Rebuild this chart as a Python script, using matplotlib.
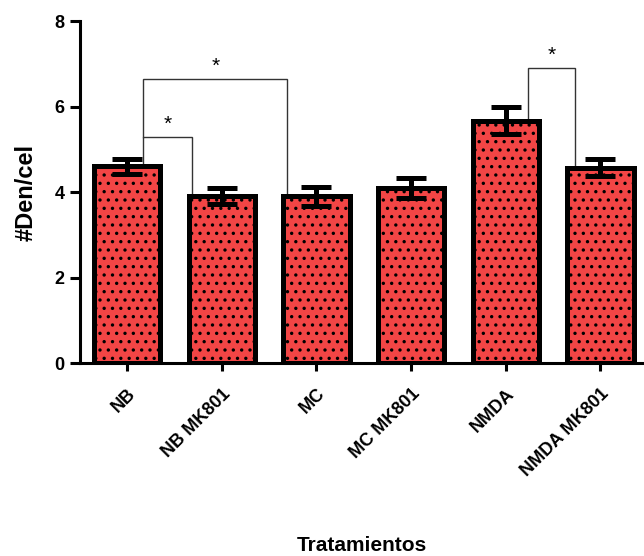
import matplotlib
matplotlib.use('Agg')
import matplotlib.pyplot as plt
import numpy as np

plt.rcParams['font.family'] = ['Liberation Sans', 'DejaVu Sans']
plt.rcParams['hatch.linewidth'] = 1.2

# datos: media y error estandar por tratamiento
tratamientos = ['NB', 'NB MK801', 'MC', 'MC MK801', 'NMDA', 'NMDA MK801']
medias = [4.60, 3.90, 3.90, 4.10, 5.67, 4.57]
errores = [0.17, 0.19, 0.22, 0.23, 0.31, 0.20]

# comparaciones significativas: (grupo a, grupo b, altura de la barra)
comparaciones = [(0, 1, 5.29), (0, 2, 6.64), (4, 5, 6.90)]

fig = plt.figure(figsize=(6.44, 5.56), dpi=100)
ax = fig.add_axes([0.124, 0.347, 0.876, 0.615])

x = np.arange(len(tratamientos))
ax.bar(x, medias, width=0.7, color='#F24545', edgecolor='black',
       linewidth=3.6, hatch='..', zorder=2)
ax.errorbar(x, medias, yerr=errores, fmt='none', ecolor='black',
            elinewidth=3.6, capsize=11, capthick=3.6, zorder=3)

# corchetes con asterisco; las patas salen desde el borde de cada barra
pata = {0: 0.17, 1: 0.68, 2: 1.69, 4: 4.23, 5: 4.73}
for a, b, h in comparaciones:
    xa, xb = pata[a], pata[b]
    ya = medias[a]
    if a == 0 and b == 2:
        ya = comparaciones[0][2]
    yb = medias[b]
    ax.plot([xa, xa, xb, xb], [ya, h, h, yb], color='#333333', lw=1.0,
            zorder=1, solid_joinstyle='miter')
    ax.text((xa + xb) / 2, h + 0.08, '*', ha='center', va='bottom',
            fontsize=15)

ax.set_xlim(-0.5, 5.46)
ax.set_ylim(0, 8)
ax.set_yticks([0, 2, 4, 6, 8])
ax.set_xticks(x)
ax.set_xticklabels(tratamientos, rotation=45, ha='right',
                   rotation_mode='anchor', fontweight='bold', fontsize=13)
for lbl in ax.get_yticklabels():
    lbl.set_fontweight('bold')
    lbl.set_fontsize(13)

for s in ['top', 'right']:
    ax.spines[s].set_visible(False)
for s in ['left', 'bottom']:
    ax.spines[s].set_linewidth(2.2)
ax.tick_params(axis='y', length=7, width=2.2, pad=4)
ax.tick_params(axis='x', length=6, width=2.2, pad=10)

ax.set_ylabel('#Den/cel', fontsize=17, fontweight='bold', labelpad=12)
ax.set_xlabel('Tratamientos', fontsize=15, fontweight='bold')
ax.xaxis.set_label_coords(0.5, -0.505)

fig.savefig('out.png', dpi=100)
